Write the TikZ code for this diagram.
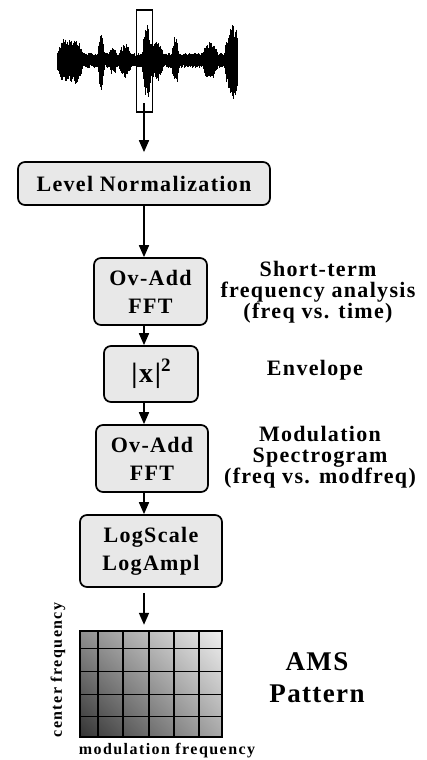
\documentclass[tikz,border=0pt]{standalone}
\usepackage{fontspec}
\setmainfont{Liberation Serif}
\newfontfamily\tb{Liberation Serif}[LetterSpace=6]
\newfontfamily\tbs{Liberation Serif}[LetterSpace=9]
\newfontfamily\tbp{Liberation Serif}[LetterSpace=5]
\usetikzlibrary{arrows.meta,shadings}
\definecolor{boxgray}{HTML}{E8E8E8}
\definecolor{gTL}{gray}{0.56}
\definecolor{gTR}{gray}{0.94}
\definecolor{gBL}{gray}{0.2}
\definecolor{gBR}{gray}{0.66}
\begin{document}
\begin{tikzpicture}[x=1pt,y=-1pt,
  proc/.style={draw, line width=1.7pt, rounded corners=7pt, fill=boxgray, inner sep=0pt,
    font={\tb\bfseries\fontsize{22}{28}\selectfont}, align=center},
  side/.style={font={\tb\bfseries\fontsize{22}{21}\selectfont}, align=center},
  axlab/.style={font={\tbs\bfseries\fontsize{16}{16}\selectfont}},
  flow/.style={line width=1.7pt, -{Triangle[length=12pt,width=10pt]}}]
\useasboundingbox (0,0) rectangle (426,760);
% waveform
\pgfmathsetseed{11}
\foreach \x in {57,57.5,...,237} {
  \pgfmathsetmacro\env{7+14*max(0,1-((\x-70)/13)^2)+4*max(0,1-((\x-62)/6)^2)+4*max(0,1-((\x-78)/5)^2)
    +20*max(0,1-((\x-101)/3.5)^2)+6*max(0,1-((\x-113)/4)^2)+9*max(0,1-((\x-125)/6)^2)
    +28*max(0,1-((\x-147)/5)^2)+12*max(0,1-((\x-157)/6)^2)+18*max(0,1-((\x-175)/3.5)^2)
    +11*max(0,1-((\x-210)/8)^2)+28*max(0,1-((\x-233)/9)^2)}
  \pgfmathsetmacro\u{\env*(0.6+0.4*rnd)}
  \pgfmathsetmacro\d{1.15*\env*(0.6+0.4*rnd)}
  \draw[line width=0.9pt] (\x,60-\u) -- (\x,60+\d);
}
\node[draw, line width=1.6pt, minimum width=16pt, minimum height=102pt, inner sep=0pt] (frame) at (144.5,61) {};
\coordinate (col) at (144,0);
\coordinate (ws) at (144,103);
% boxes
\node[proc, minimum width=252pt, minimum height=43pt] (norm) at (144,183.5) {Level Normalization};
\node[proc, minimum width=113pt, minimum height=67pt] (fft1) at (150.5,291.5) {Ov-Add\\FFT};
\node[proc, minimum width=94pt, minimum height=56pt] (sq) at (151,374)
  {{\fontsize{28}{28}\selectfont |x|}\raisebox{11pt}{\fontsize{19}{19}\selectfont 2}};
\node[proc, minimum width=112pt, minimum height=67pt] (fft2) at (152,458.5) {Ov-Add\\FFT};
\node[proc, minimum width=142pt, minimum height=72pt] (logb) at (151,551) {LogScale\\LogAmpl};
% grid
\shade[upper left=gTL, upper right=gTR, lower left=gBL, lower right=gBR] (80,631) rectangle (222,737);
\node[minimum width=142pt, minimum height=106pt, inner sep=0pt] (grid) at (151,684) {};
\foreach \gx in {98,123,149,174,199} \draw[line width=1.7pt] (\gx,631) -- (\gx,738);
\foreach \gy in {648.5,671.5,694.5,716.5} \draw[line width=1.7pt] (80,\gy) -- (222,\gy);
\draw[line width=1.7pt] (80,631) rectangle (222,737);
% arrows
\draw[flow] (ws) -- ([yshift=9pt]norm.north -| col);
\draw[flow] (norm.south -| col) -- (fft1.north -| col);
\draw[flow] (fft1.south -| col) -- (sq.north -| col);
\draw[flow] (sq.south -| col) -- (fft2.north -| col);
\draw[flow] (fft2.south -| col) -- (logb.north -| col);
\draw[flow] ([yshift=-5pt]logb.south -| col) -- ([yshift=6pt]grid.north -| col);
% side texts
\node[side] (t1) at (318,292) {Short-term\\frequency analysis\\(freq vs. time)};
\node[side] (t2) at (315,370) {Envelope};
\node[side] (t3) at (320,457) {Modulation\\Spectrogram\\(freq vs. modfreq)};
\node[font={\tbp\bfseries\fontsize{27}{32}\selectfont}, align=center] (ams) at (317,678) {AMS\\Pattern};
\node[axlab, rotate=90] (cf) at (58,670) {center frequency};
\node[axlab] (mf) at (167,751) {modulation frequency};
\end{tikzpicture}
\end{document}
